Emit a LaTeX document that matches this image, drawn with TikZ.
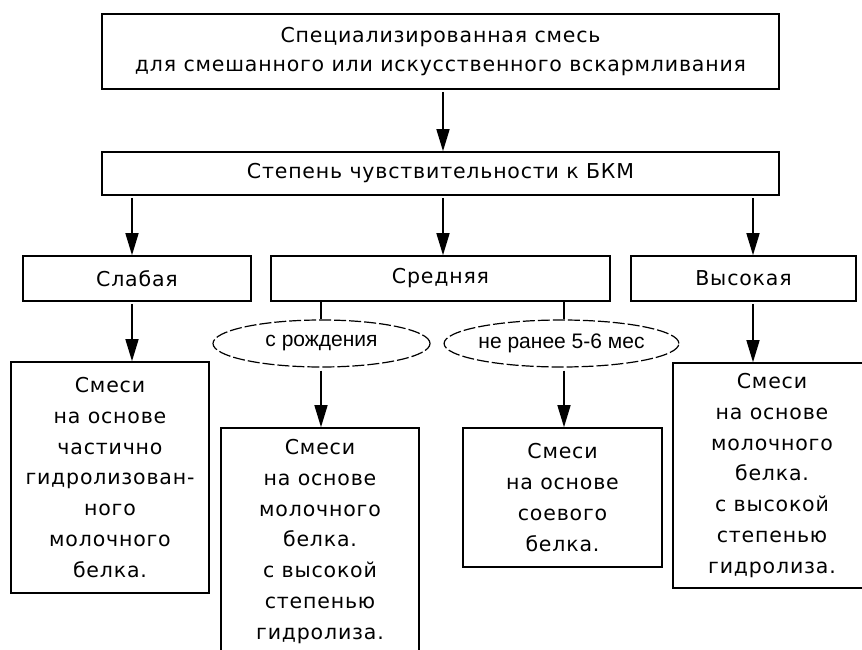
\documentclass[tikz,border=0pt]{standalone}
\usepackage{fontspec}
\usetikzlibrary{arrows.meta,shapes.geometric}
\newfontfamily\boxfont[LetterSpace=4]{DejaVu Sans}
\newfontfamily\ovalfont{Liberation Sans}
\newcommand{\smes}[5]{\node[blk,minimum width=#3,minimum height=#4] (#1) at (#2){#5};}

\begin{document}
\begin{tikzpicture}[x=1pt,y=-1pt,
  blk/.style={draw,line width=1.6pt,inner sep=0pt,align=center,font={\boxfont\fontsize{20.5}{30.8}\selectfont}},
  oval/.style={ellipse,draw,line width=1.2pt,dash pattern=on 12pt off 3pt,inner sep=0pt,minimum height=47pt,font={\ovalfont\fontsize{21}{24}\selectfont}},
  arr/.style={line width=1.5pt,-{Triangle[length=22pt,width=13pt]}}]
\useasboundingbox (0,0) rectangle (862,650);
\clip (0,0) rectangle (862,650);
\coordinate (cL) at (132,0);\coordinate (cM) at (443,0);\coordinate (cR) at (753,0);
\coordinate (cB) at (321,0);\coordinate (cS) at (564,0);
\smes{mix}{440.5,51.5}{677}{75}{\raisebox{-2pt}{Специализированная смесь}\\для смешанного или искусственного вскармливания}
\smes{level}{440.5,173.5}{677}{43}{Степень чувствительности к БКМ}
\smes{weak}{137,278.5}{228}{45}{Слабая}
\smes{mid}{440.5,278.5}{339}{45}{Средняя}
\smes{high}{743.5,278.5}{225}{45}{Высокая}
\node[oval,minimum width=217pt] (birth) at (321.5,343.5){с рождения};
\node[oval,minimum width=217pt] (late) at (561.5,343.5){не ранее 5-6 мес};
\smes{part}{110,477.5}{198}{231}{Смеси\\на основе\\частично\\гидролизован-\\ного\\молочного\\белка.}
\smes{hydA}{320,541.5}{198}{227}{Смеси\\на основе\\молочного\\белка.\\с высокой\\степенью\\гидролиза.}
\smes{soy}{562.5,497.5}{199}{139}{Смеси\\на основе\\соевого\\белка.}
\smes{hydB}{772,475.5}{198}{225}{Смеси\\на основе\\молочного\\белка.\\с высокой\\степенью\\гидролиза.}
\draw[arr,shorten <=2pt] (mix.south -| cM) -- (level.north -| cM);
\foreach \c/\n in {cL/weak,cM/mid,cR/high}\draw[arr,shorten <=2pt] (level.south -| \c) -- (\n.north -| \c);
\draw[arr,shorten <=2pt] (weak.south -| cL) -- (part.north -| cL);
\draw[arr,shorten <=2pt] (high.south -| cR) -- (hydB.north -| cR);
\draw[line width=1.5pt] (mid.south -| cB) -- (birth.north -| cB);
\draw[line width=1.5pt] (mid.south -| cS) -- (late.north -| cS);
\draw[arr,shorten <=3pt] (birth.south -| cB) -- (hydA.north -| cB);
\draw[arr,shorten <=3pt] (late.south -| cS) -- (soy.north -| cS);
\end{tikzpicture}
\end{document}
